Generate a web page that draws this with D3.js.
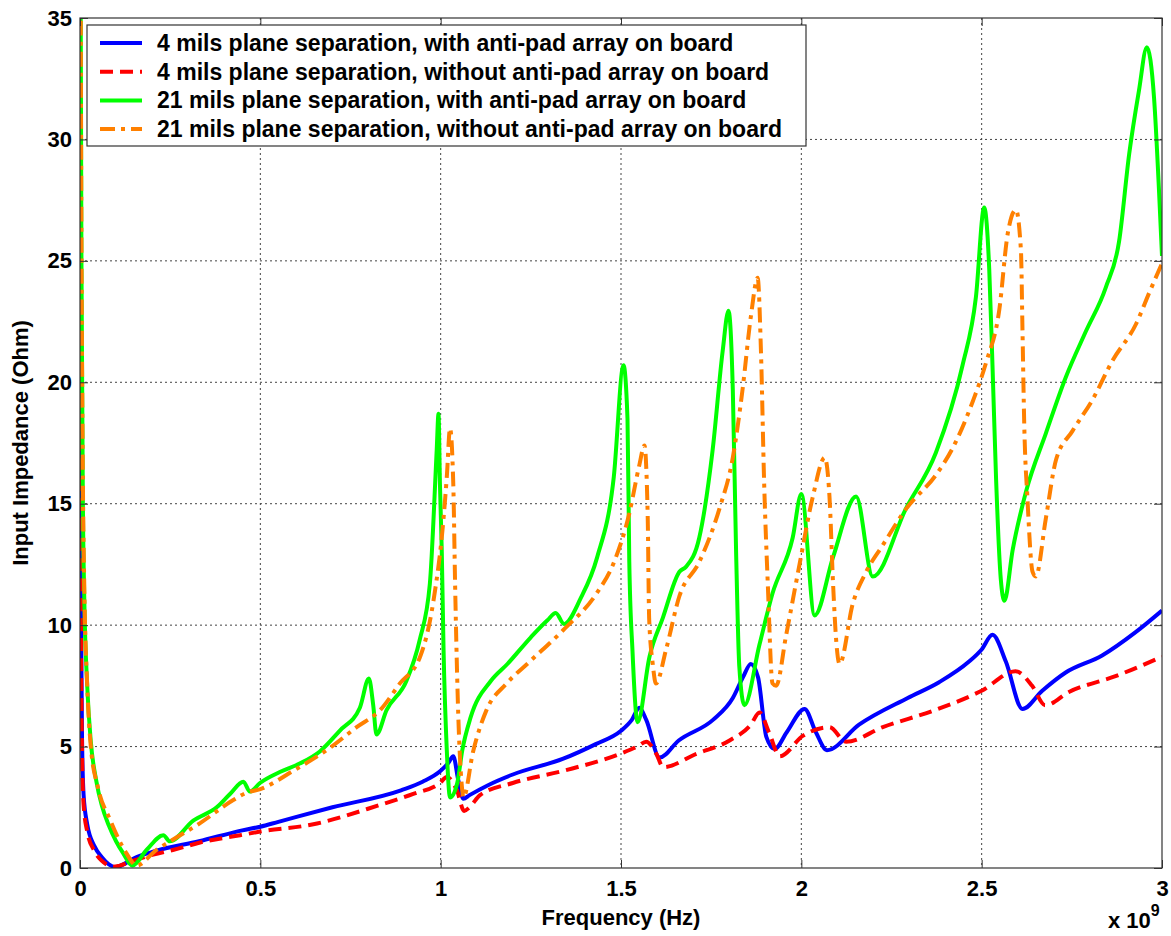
<!DOCTYPE html>
<html lang="en">
<head>
<meta charset="utf-8">
<title>Input impedance vs frequency</title>
<script src="https://cdn.jsdelivr.net/npm/d3@7"></script>
<style>
body { margin: 0; background: #fff; font-family: "Liberation Sans", Arial, sans-serif; }
svg text { font-family: "Liberation Sans", Arial, sans-serif; font-weight: bold; fill: #000; }
</style>
</head>
<body>
<div id="vis"></div>
<script>

/* Data (frequency in GHz, impedance in Ohm) */
/* ========================================= */

var xTicks = [0, 0.5, 1, 1.5, 2, 2.5, 3];
var xTickLabels = ['0', '0.5', '1', '1.5', '2', '2.5', '3'];
var yTicks = [0, 5, 10, 15, 20, 25, 30, 35];
var yTickLabels = ['0', '5', '10', '15', '20', '25', '30', '35'];

var seriesNames = [
	'4 mils plane separation, with anti-pad array on board',
	'4 mils plane separation, without anti-pad array on board',
	'21 mils plane separation, with anti-pad array on board',
	'21 mils plane separation, without anti-pad array on board'
];

var blueF = [0.001,0.003,0.006,0.01,0.02,0.04,0.06,0.08,0.1,0.12,0.15,0.21,0.33,0.45,0.5,0.55,0.7,0.89,0.95,1.0,1.02,1.035,1.049,1.063,1.08,1.13,1.2,1.34,1.43,1.5,1.53,1.551,1.57,1.607,1.66,1.755,1.81,1.838,1.86,1.88,1.903,1.926,1.96,2.009,2.04,2.071,2.16,2.295,2.382,2.465,2.5,2.53,2.567,2.613,2.668,2.733,2.834,2.926,3.0];
var blueZ = [22,10,5,3,1.8,0.9,0.45,0.15,0.03,0.15,0.4,0.7,1.1,1.55,1.7,1.9,2.5,3.2,3.55,4.0,4.3,4.6,3.6,2.85,3.0,3.4,3.85,4.5,5.1,5.65,6.1,6.6,6.1,4.55,5.25,6.1,7.0,7.85,8.4,7.85,5.4,4.9,5.6,6.55,5.6,4.85,5.9,7.0,7.65,8.5,9.0,9.6,8.5,6.55,7.3,8.05,8.75,9.7,10.6];

var redF = [0.001,0.003,0.006,0.01,0.02,0.04,0.06,0.08,0.092,0.11,0.148,0.203,0.26,0.333,0.444,0.5,0.647,0.832,0.924,0.998,1.017,1.045,1.065,1.08,1.109,1.2,1.34,1.497,1.545,1.57,1.598,1.617,1.709,1.801,1.86,1.884,1.91,1.94,2.005,2.078,2.124,2.226,2.37,2.5,2.594,2.64,2.676,2.742,2.871,3.0];
var redZ = [21,9,4.5,2.6,1.5,0.7,0.3,0.1,0.05,0.1,0.3,0.55,0.75,1.05,1.35,1.5,1.8,2.6,3.05,3.5,3.75,3.2,2.35,2.5,3.0,3.5,4.0,4.7,5.0,5.2,4.7,4.15,4.7,5.25,5.9,6.4,5.6,4.6,5.45,5.8,5.2,5.8,6.5,7.3,8.1,7.5,6.7,7.25,7.9,8.7];

var greenF = [0.001,0.004,0.008,0.012,0.02,0.03,0.045,0.06,0.08,0.1,0.12,0.145,0.185,0.231,0.249,0.314,0.379,0.416,0.453,0.471,0.499,0.554,0.609,0.665,0.72,0.776,0.801,0.813,0.822,0.85,0.905,0.942,0.97,0.989,0.994,0.998,1.003,1.008,1.017,1.026,1.046,1.06,1.083,1.139,1.185,1.25,1.296,1.319,1.342,1.388,1.434,1.48,1.507,1.518,1.523,1.532,1.546,1.579,1.616,1.662,1.68,1.717,1.754,1.782,1.798,1.81,1.819,1.828,1.842,1.884,1.92,1.976,2.0,2.037,2.088,2.152,2.198,2.29,2.373,2.447,2.484,2.507,2.521,2.53,2.54,2.553,2.563,2.586,2.623,2.678,2.733,2.789,2.844,2.881,2.909,2.936,2.958,2.978,2.992,3.0];
var greenZ = [40,25,15,11,7.5,5.2,3.6,2.6,1.75,1.1,0.6,0.1,0.75,1.35,1.1,1.95,2.5,3.05,3.55,3.15,3.5,3.95,4.3,4.8,5.65,6.6,7.8,6.7,5.5,6.5,7.7,9.4,11.7,17.2,18.7,15.8,13.1,9.0,4.85,2.9,3.5,4.85,6.2,7.7,8.4,9.5,10.2,10.5,10.05,11.1,12.8,16.1,20.7,18.5,12.6,8.9,6.0,8.7,10.3,12.2,12.4,13.6,17.2,21.3,22.95,19.7,13.1,8.3,6.7,9.2,11.3,13.6,15.4,10.4,12.8,15.3,12.0,14.8,17.1,20.7,23.5,27.2,24.65,20.7,16,11.9,11.0,13.1,15.5,17.9,20.2,22.1,23.9,25.8,29.4,32.0,33.8,31.7,27.8,25.2];

var orangeF = [0.001,0.004,0.008,0.012,0.02,0.03,0.05,0.083,0.129,0.157,0.212,0.25,0.333,0.425,0.462,0.5,0.591,0.693,0.767,0.832,0.887,0.943,0.98,1.008,1.017,1.026,1.035,1.04,1.049,1.058,1.063,1.09,1.127,1.183,1.247,1.34,1.432,1.478,1.523,1.551,1.565,1.574,1.578,1.588,1.597,1.625,1.662,1.717,1.773,1.81,1.837,1.86,1.879,1.888,1.897,1.907,1.92,1.93,1.958,1.995,2.032,2.065,2.078,2.088,2.097,2.106,2.143,2.18,2.226,2.291,2.374,2.42,2.475,2.512,2.549,2.572,2.595,2.609,2.613,2.618,2.627,2.641,2.65,2.678,2.706,2.752,2.808,2.863,2.928,2.965,3.0];
var orangeZ = [40,26,16,11.5,7.5,5.0,3.3,2.0,0.6,0.1,0.75,1.1,1.85,2.8,3.1,3.25,4.0,4.95,5.8,6.5,7.6,8.7,11.0,14.4,16.1,18.1,15.8,11.7,6.2,3.5,2.9,4.8,6.5,7.6,8.5,9.8,11.3,12.5,14.6,16.6,17.4,14.5,10.3,8.4,7.6,9.0,11.2,12.6,14.8,16.9,19.7,22.7,24.3,21.3,15.8,11.7,7.6,7.5,9.6,12.5,15.3,16.9,15.3,11.7,9.3,8.4,10.9,12.2,13.3,14.8,16.2,17.3,19.2,20.8,23.0,26.1,27.1,25.4,22.3,18.3,15.2,12.2,12.0,14.4,16.8,18.0,19.3,20.9,22.4,23.7,24.9];


/* SVG and scales */
/* ============== */

var margin = { top: 18, right: 9, bottom: 68, left: 80 },
		width = 1171 - margin.left - margin.right,
		height = 936 - margin.top - margin.bottom;

var svg = d3.select('#vis')
	.append('svg')
		.attr('width', 1171)
		.attr('height', 936)
	.append('g')
		.attr('transform', 'translate(' + margin.left + ',' + margin.top + ')');

var x = d3.scaleLinear().domain([0, 3]).range([0, width]);
var y = d3.scaleLinear().domain([0, 35]).range([height, 0]);

var series = [
	{ f: blueF,   z: blueZ,   color: '#0000ff', dash: null },
	{ f: redF,    z: redZ,    color: '#ff0000', dash: '13,7' },
	{ f: greenF,  z: greenZ,  color: '#00ff00', dash: null },
	{ f: orangeF, z: orangeZ, color: '#ff8000', dash: '15,6,4,6' }
];


/* Grid */
/* ==== */

var grid = svg.append('g').attr('class', 'grid')
	.style('stroke', '#444')
	.style('stroke-width', 1)
	.style('stroke-dasharray', '2,3');

grid.selectAll('.vgrid')
	.data(xTicks.slice(1, -1))
	.enter().append('line')
		.attr('x1', function(d) { return x(d); })
		.attr('x2', function(d) { return x(d); })
		.attr('y1', 0)
		.attr('y2', height);

grid.selectAll('.hgrid')
	.data(yTicks.slice(1, -1))
	.enter().append('line')
		.attr('x1', 0)
		.attr('x2', width)
		.attr('y1', function(d) { return y(d); })
		.attr('y2', function(d) { return y(d); });


/* Curves */
/* ====== */

svg.append('clipPath').attr('id', 'plotclip')
	.append('rect')
		.attr('width', width)
		.attr('height', height);

var line = d3.line()
	.x(function(d) { return x(d[0]); })
	.y(function(d) { return y(d[1]); })
	.curve(d3.curveMonotoneX);

svg.append('g').attr('clip-path', 'url(#plotclip)')
		.selectAll('.curve')
	.data(series)
	.enter().append('path')
		.attr('class', 'curve')
		.attr('d', function(s) { return line(d3.zip(s.f, s.z)); })
		.attr('fill', 'none')
		.attr('stroke', function(s) { return s.color; })
		.attr('stroke-width', 4)
		.attr('stroke-linejoin', 'round')
		.attr('stroke-dasharray', function(s) { return s.dash; });


/* Axes */
/* ==== */

var tickLen = 8;

svg.append('g')
	.attr('transform', 'translate(0,' + height + ')')
	.call(d3.axisBottom(x).tickValues(xTicks).tickSize(-tickLen).tickPadding(12)
		.tickFormat(function(d, i) { return xTickLabels[i]; }))
	.call(function(g) { g.select('.domain').remove(); })
	.selectAll('text').style('font-size', '22px');

svg.append('g')
	.call(d3.axisLeft(y).tickValues(yTicks).tickSize(-tickLen).tickPadding(8)
		.tickFormat(function(d, i) { return yTickLabels[i]; }))
	.call(function(g) { g.select('.domain').remove(); })
	.selectAll('text').style('font-size', '22px');

svg.append('g')
	.call(d3.axisTop(x).tickValues(xTicks).tickSize(-tickLen).tickFormat(''))
	.call(function(g) { g.select('.domain').remove(); });

svg.append('g')
	.attr('transform', 'translate(' + width + ',0)')
	.call(d3.axisRight(y).tickValues(yTicks).tickSize(-tickLen).tickFormat(''))
	.call(function(g) { g.select('.domain').remove(); });

svg.selectAll('.tick line').attr('stroke', '#333');

svg.append('rect')
	.attr('width', width)
	.attr('height', height)
	.attr('fill', 'none')
	.attr('stroke', '#333')
	.attr('stroke-width', 1.2);

// axis labels
svg.append('text')
	.attr('x', width / 2)
	.attr('y', height + 57)
	.attr('text-anchor', 'middle')
	.style('font-size', '22px')
	.text('Frequency (Hz)');

svg.append('text')
	.attr('transform', 'translate(' + (-52) + ',' + (height / 2) + ') rotate(-90)')
	.attr('text-anchor', 'middle')
	.style('font-size', '22px')
	.text('Input Impedance (Ohm)');

var expo = svg.append('text')
	.attr('x', width - 54)
	.attr('y', height + 60)
	.style('font-size', '22px');
expo.append('tspan').text('x 10');
expo.append('tspan')
	.attr('dy', -12)
	.style('font-size', '16px')
	.text('9');


/* Legend */
/* ====== */

var legend = svg.append('g')
	.attr('transform', 'translate(7,7)');

legend.append('rect')
	.attr('width', 719)
	.attr('height', 121)
	.attr('fill', '#fff')
	.attr('stroke', '#333')
	.attr('stroke-width', 1.2);

var rows = legend.selectAll('.row')
	.data(series)
	.enter().append('g')
		.attr('class', 'row')
		.attr('transform', function(d, i) { return 'translate(0,' + (18 + i * 28.7) + ')'; });

rows.append('line')
	.attr('x1', 13)
	.attr('x2', 55)
	.attr('stroke', function(s) { return s.color; })
	.attr('stroke-width', 4)
	.attr('stroke-dasharray', function(s) { return s.dash; });

rows.append('text')
	.attr('x', 70)
	.attr('y', 8)
	.style('font-size', '23px')
	.text(function(d, i) { return seriesNames[i]; });

</script>
</body>
</html>
